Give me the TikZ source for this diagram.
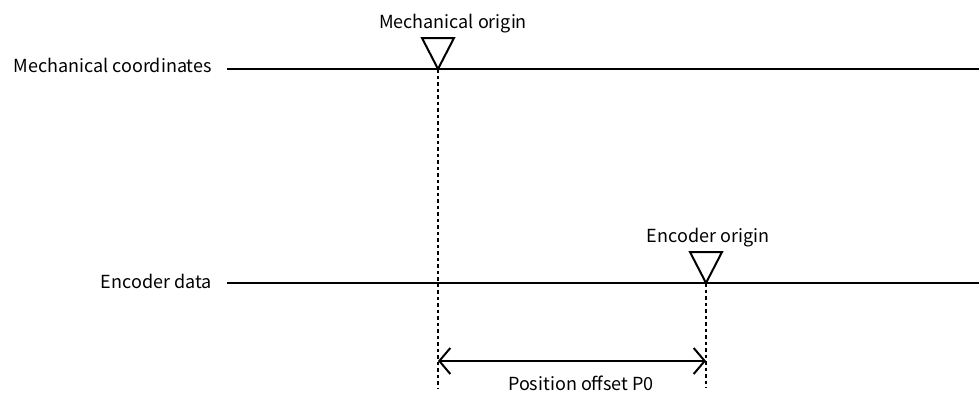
\documentclass[tikz,border=0pt]{standalone}
\usepackage{fontspec}
\setmainfont{Noto Sans CJK JP}
\usetikzlibrary{arrows.meta}
\begin{document}
\begin{tikzpicture}[x=1pt,y=-1pt,
  axis/.style={line width=2pt},
  guide/.style={line width=2pt,dash pattern=on 3.5pt off 3pt},
  lbl/.style={font=\fontsize{18}{20}\selectfont,inner sep=0pt},
  tri/.style={line width=2pt,line join=miter}]
\useasboundingbox (0,0) rectangle (979,394);
% labels
\node[lbl,anchor=base east] (mc) at (212,72) {Mechanical coordinates};
\node[lbl,anchor=base east] (ed) at (212,288) {Encoder data};
\coordinate (mcs) at (227,69);
\coordinate (eds) at (227,283);
\coordinate (mcend) at (979,69);
\coordinate (edend) at (979,283);
\draw[axis] (mcs) -- (mcend);
\draw[axis] (eds) -- (edend);
% origins
\coordinate (mo) at (438,69);
\coordinate (eo) at (706,283);
\draw[tri] (mo) -- (422,38) -- (454,38) -- cycle;
\draw[tri] (eo) -- (690,252) -- (722,252) -- cycle;
\node[lbl,anchor=base] (mol) at (453,28) {Mechanical origin};
\node[lbl,anchor=base] (eol) at (708,242) {Encoder origin};
% guides
\coordinate (mb) at (438,388);
\coordinate (eb) at (706,388);
\draw[guide] (mo) -- (mb);
\draw[guide] (eo) -- (eb);
% offset arrow
\coordinate (a1) at (438,361);
\coordinate (a2) at (706,361);
\draw[line width=2pt,{Straight Barb[length=11pt,width=26pt,line width=2pt]}-{Straight Barb[length=11pt,width=26pt,line width=2pt]}] (a1) -- (a2);
\node[lbl,anchor=base] (pl) at (581,390) {Position offset P0};
\end{tikzpicture}
\end{document}
